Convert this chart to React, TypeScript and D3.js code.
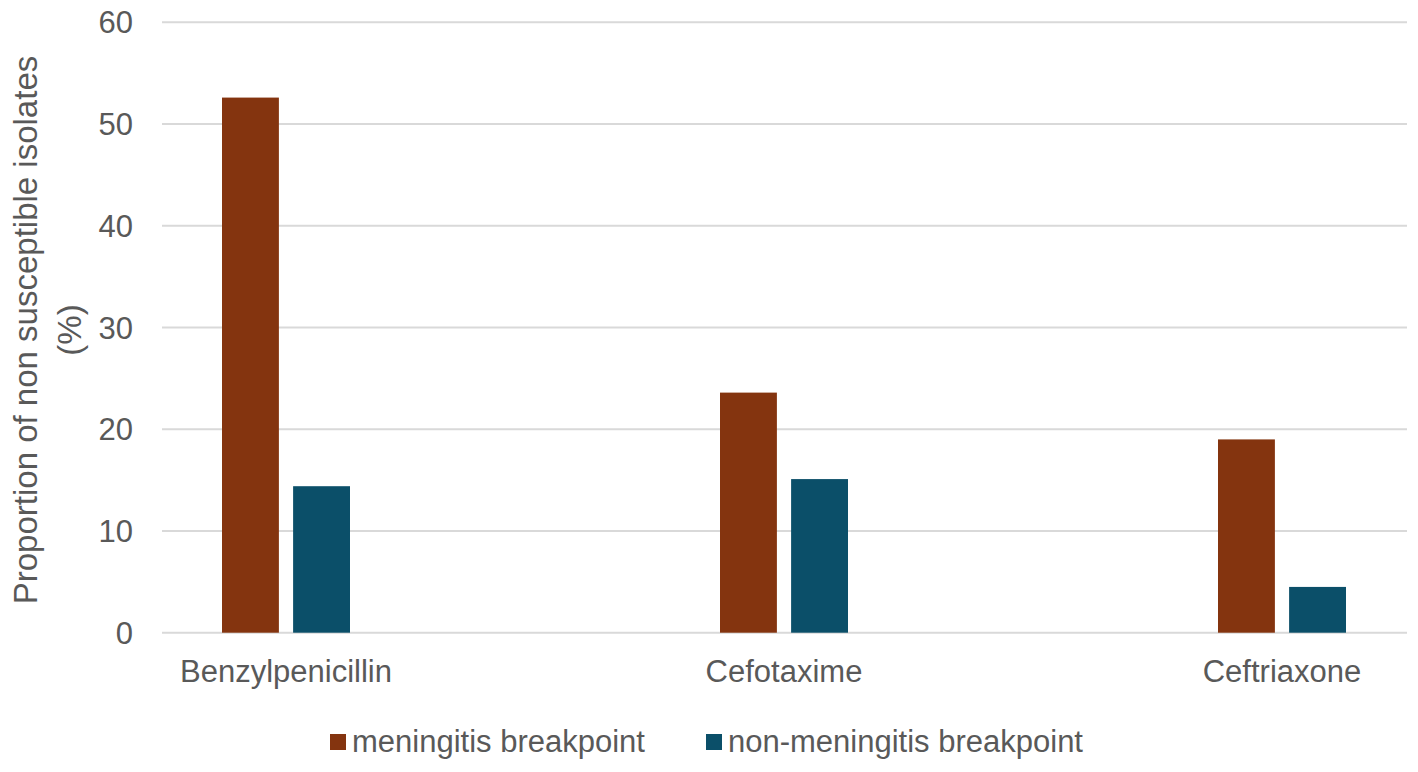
import React from "react";
import * as d3 from "d3";

const categories = ["Benzylpenicillin", "Cefotaxime", "Ceftriaxone"];
const seriesNames = ["meningitis breakpoint", "non-meningitis breakpoint"];
const meningitis = [52.6, 23.6, 19.0];
const nonMeningitis = [14.4, 15.1, 4.5];
const yTicks = [0, 10, 20, 30, 40, 50, 60];
const colors = ["#84340f", "#0b4f69"];

const W = 1418;
const H = 772;
const FONT = "'Liberation Sans', Arial, Helvetica, sans-serif";
const TEXT = "#595959";

export default function App() {
  const plotLeft = 162;
  const plotRight = 1407;
  const y = d3.scaleLinear().domain([0, 60]).range([632.7, 22.3]);
  const x = d3.scalePoint<string>().domain(categories).range([286, 1282]);
  const inner = d3
    .scaleBand<string>()
    .domain(seriesNames)
    .range([-64, 64])
    .paddingInner(0.2);
  const values = [meningitis, nonMeningitis];

  return (
    <svg
      width={W}
      height={H}
      style={{ position: "absolute", left: 0, top: 0, background: "#fff" }}
      fontFamily={FONT}
    >
      <rect width={W} height={H} fill="#fff" />
      {yTicks.map((t) => (
        <g key={t}>
          <line
            x1={plotLeft}
            x2={plotRight}
            y1={y(t)}
            y2={y(t)}
            stroke="#d9d9d9"
            strokeWidth={2}
          />
          <text
            x={133}
            y={y(t)}
            dy="0.36em"
            textAnchor="end"
            fontSize={31}
            fill={TEXT}
          >
            {t}
          </text>
        </g>
      ))}
      {seriesNames.map((s, si) =>
        categories.map((c, ci) => {
          const v = values[si][ci];
          return (
            <rect
              key={s + c}
              x={(x(c) as number) + (inner(s) as number)}
              width={inner.bandwidth()}
              y={y(v)}
              height={y(0) - y(v)}
              fill={colors[si]}
            />
          );
        })
      )}
      {categories.map((c) => (
        <text
          key={c}
          x={x(c) as number}
          y={682}
          textAnchor="middle"
          fontSize={31}
          fill={TEXT}
        >
          {c}
        </text>
      ))}
      <g transform="translate(37,330) rotate(-90)">
        <text x={0} y={0} textAnchor="middle" fontSize={33} fill={TEXT}>
          Proportion of non susceptible isolates
        </text>
        <text x={0} y={44} textAnchor="middle" fontSize={33} fill={TEXT}>
          (%)
        </text>
      </g>
      {seriesNames.map((s, i) => {
        const lx = [330, 706][i];
        return (
          <g key={s}>
            <rect x={lx} y={734} width={16} height={16} fill={colors[i]} />
            <text x={lx + 22} y={752} fontSize={31} fill={TEXT}>
              {s}
            </text>
          </g>
        );
      })}
    </svg>
  );
}
